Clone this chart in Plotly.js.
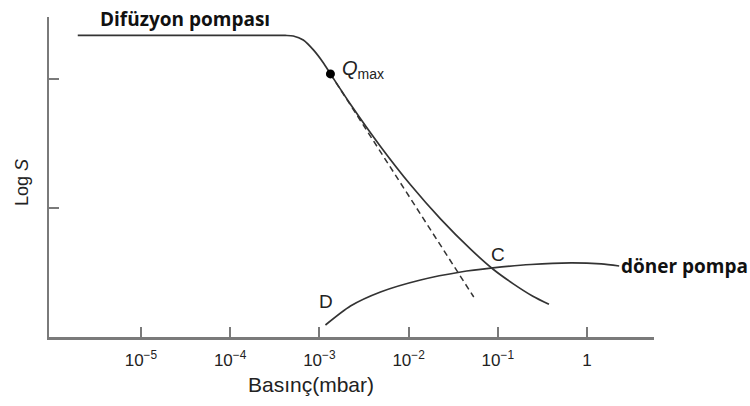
<!DOCTYPE html>
<html><head><meta charset="utf-8">
<script src="https://cdn.plot.ly/plotly-3.0.1.min.js"></script>
<style>body{margin:0;background:#fff}#c{width:750px;height:406px}</style>
</head><body><div id="c"></div>
<script>
// Diffusion pump curve: pressure (mbar) and log S (arbitrary units)
const difP = [1.96e-6, 4.6e-5, 4.15e-4, 5.1e-4, 6.6e-4, 8.57e-4, 1.11e-3, 1.33e-3, 2.23e-3, 4.84e-3, 1.05e-2, 2.29e-2, 4.98e-2, 8.79e-2, 0.1476, 0.247, 0.374];
const difS = [2.337, 2.337, 2.337, 2.333, 2.302, 2.225, 2.124, 2.039, 1.804, 1.477, 1.180, 0.914, 0.679, 0.527, 0.414, 0.316, 0.253];
// Dashed extrapolation (tangent at Qmax)
const dashP = [1.33e-3, 5.37e-2];
const dashS = [2.039, 0.310];
// Rotary pump curve
const donP = [1.17e-3, 2.23e-3, 4.84e-3, 1.36e-2, 3.84e-2, 8.79e-2, 0.235, 0.661, 1.44, 2.29];
const donS = [0.093, 0.240, 0.349, 0.442, 0.504, 0.535, 0.562, 0.574, 0.566, 0.550];
// Qmax point
const qP = [1.33e-3];
const qS = [2.039];
// Tick labels
const tickVals = [1e-5, 1e-4, 1e-3, 1e-2, 1e-1, 1];
const tickText = ['10<sup>−5</sup>', '10<sup>−4</sup>', '10<sup>−3</sup>', '10<sup>−2</sup>', '10<sup>−1</sup>', '1'];

const lineCol = '#333';
const traces = [
  {x: difP, y: difS, mode: 'lines', line: {color: lineCol, width: 1.7, shape: 'spline', smoothing: 0.7}, hoverinfo: 'skip'},
  {x: dashP, y: dashS, mode: 'lines', line: {color: lineCol, width: 1.5, dash: '6px,4px'}, hoverinfo: 'skip'},
  {x: donP, y: donS, mode: 'lines', line: {color: lineCol, width: 1.7, shape: 'spline', smoothing: 0.7}, hoverinfo: 'skip'},
  {x: qP, y: qS, mode: 'markers', marker: {color: '#000', size: 9}, hoverinfo: 'skip'}
];

const boldFont = {family: 'Open Sans, Liberation Sans, sans-serif', size: 19, color: '#111'};
const letFont = {family: 'Liberation Sans, Arial, sans-serif', size: 19, color: '#222'};
const lblFont = {family: 'Liberation Sans, Arial, sans-serif', size: 21, color: '#222'};

const layout = {
  width: 750, height: 406,
  margin: {l: 49, r: 96, t: 17, b: 69},
  paper_bgcolor: '#fff', plot_bgcolor: '#fff',
  showlegend: false,
  xaxis: {
    type: 'log', range: [-6.03, 0.75],
    showgrid: false, zeroline: false,
    showline: true, linecolor: '#7a7a7a', linewidth: 2.5,
    ticks: 'inside', ticklen: 10, tickwidth: 2, tickcolor: '#7a7a7a',
    tickvals: tickVals, ticktext: tickText,
    ticklabelstandoff: 6,
    tickfont: {family: 'Liberation Sans, Arial, sans-serif', size: 17, color: '#222'},
    fixedrange: true
  },
  yaxis: {
    range: [0, 2.48],
    showgrid: false, zeroline: false,
    showline: true, linecolor: '#7a7a7a', linewidth: 2.5,
    ticks: 'inside', ticklen: 10, tickwidth: 2, tickcolor: '#7a7a7a',
    tickvals: [1, 2], showticklabels: false,
    fixedrange: true
  },
  annotations: [
    {xref: 'paper', yref: 'paper', x: 0.081, y: 0.994, xanchor: 'left', yanchor: 'middle', showarrow: false,
     text: '<b>Difüzyon pompası</b>', font: boldFont},
    {x: Math.log10(qP[0]), y: qS[0], xanchor: 'left', yanchor: 'middle', xshift: 10, yshift: 4, showarrow: false,
     text: '<i>Q</i><sub>max</sub>', font: {family: 'Liberation Sans, Arial, sans-serif', size: 20, color: '#222'}},
    {x: Math.log10(difP[13]), y: difS[13], xanchor: 'center', yanchor: 'middle', xshift: 5, yshift: 15, showarrow: false,
     text: 'C', font: letFont},
    {x: Math.log10(donP[0]), y: donS[0], xanchor: 'center', yanchor: 'middle', xshift: 1, yshift: 24, showarrow: false,
     text: 'D', font: letFont},
    {x: Math.log10(donP[donP.length - 1]), y: donS[donS.length - 1], xanchor: 'left', yanchor: 'middle', xshift: 0, yshift: 0, showarrow: false,
     text: '<b>döner pompa</b>', font: boldFont},
    {xref: 'paper', yref: 'paper', x: 0.433, y: -0.147, xanchor: 'center', yanchor: 'middle', showarrow: false,
     text: 'Basınç(mbar)', font: lblFont},
    {xref: 'paper', yref: 'paper', x: -0.0446, y: 0.481, xanchor: 'center', yanchor: 'middle', showarrow: false, textangle: -90,
     text: 'Log <i>S</i>', font: {family: 'Liberation Sans, Arial, sans-serif', size: 18, color: '#222'}}
  ]
};
Plotly.newPlot('c', traces, layout, {displayModeBar: false, staticPlot: true});
</script></body></html>
